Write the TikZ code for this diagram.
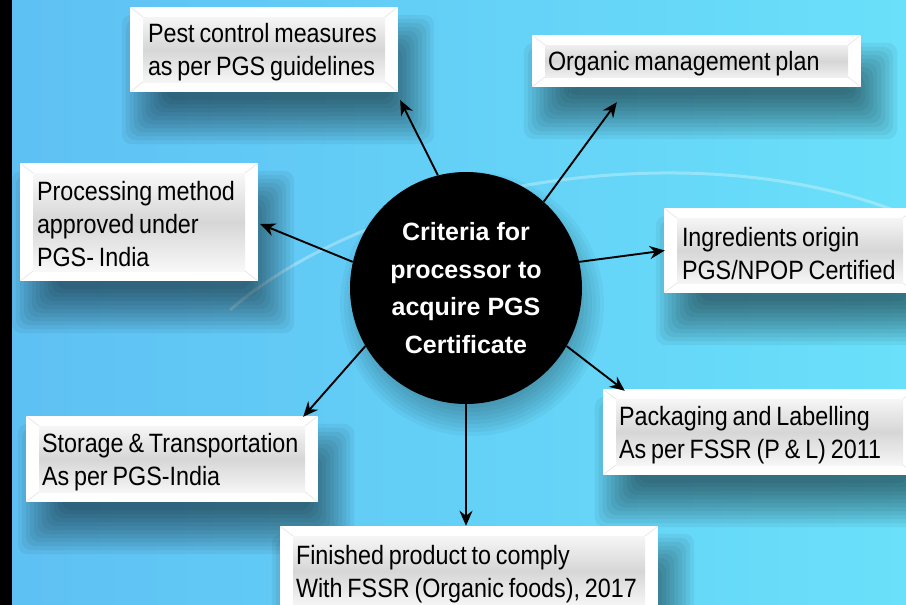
\documentclass[tikz,border=0pt]{standalone}
\usepackage{fontspec}
\setmainfont{Liberation Sans}
\newfontfamily\boxfont{Liberation Sans}[FakeStretch=0.88, WordSpace=0.75]
\usetikzlibrary{arrows.meta}

\definecolor{bgL}{RGB}{94,192,243}
\definecolor{bgM}{RGB}{114,232,251}
\definecolor{bgR}{RGB}{106,224,250}

\pgfdeclarelayer{back}
\pgfdeclarelayer{shad}
\pgfsetlayers{back,shad,main}

\newcommand\myboxshadow[1]{%
  \begin{pgfonlayer}{shad}
    \foreach \d in {-22,-18,...,22}{
      \fill[black, opacity=0.05, rounded corners=10pt]
        ([shift={(14+\d,30+\d)}]#1.north west) rectangle
        ([shift={(14-\d,30-\d)}]#1.south east);
    }
  \end{pgfonlayer}}

\begin{document}
\begin{tikzpicture}[x=1pt,y=-1pt,
  bx/.style={fill=white, inner sep=0pt,
    path picture={
      \shade[top color=white, bottom color=white, middle color=gray!32]
        ([shift={(13,10)}]path picture bounding box.north west) rectangle
        ([shift={(-13,-10)}]path picture bounding box.south east);
      \draw[gray!22, line width=0.6pt]
        (path picture bounding box.north west) -- ++(13,10)
        (path picture bounding box.south west) -- ++(13,-10)
        (path picture bounding box.north east) -- ++(-13,10)
        (path picture bounding box.south east) -- ++(-13,-10);
    }},
  txt/.style={align=left, inner sep=0pt, anchor=west,
    font=\boxfont\fontsize{26.5}{33}\selectfont},
  arr/.style={-{Stealth[length=15pt,width=13pt]}, line width=1.9pt, black}]

\useasboundingbox (0,0) rectangle (906,605);
\clip (0,0) rectangle (906,605);

% background
\begin{pgfonlayer}{back}
\shade[left color=bgL, middle color=bgM, right color=bgR] (0,0) rectangle (906,605);
\draw[white, opacity=0.3, line width=3pt] (230,310) .. controls (380,180) and (700,130) .. (906,215);
\fill[black] (0,0) rectangle (12,605);
\end{pgfonlayer}

% centre
\node[circle, fill=black, minimum size=232pt, inner sep=0pt, text=white, align=center,
  font=\bfseries\fontsize{25}{37.5}\selectfont]
  (c) at (466,288) {Criteria for\\processor to\\acquire PGS\\Certificate};
\begin{pgfonlayer}{shad}
  \foreach \r in {100,104,...,132}{
    \fill[black, opacity=0.035] ([shift={(6,16)}]c.center) circle[radius=\r pt];
  }
\end{pgfonlayer}

% boxes
\node[bx, minimum width=268pt, minimum height=85pt] (pest) at (264,49.5) {};
\node[bx, minimum width=329pt, minimum height=52pt] (org) at (696.5,61) {};
\node[bx, minimum width=238pt, minimum height=118pt] (proc) at (139,222) {};
\node[bx, minimum width=252pt, minimum height=85pt] (ingr) at (790,250.5) {};
\node[bx, minimum width=313pt, minimum height=86pt] (pack) at (759.5,432) {};
\node[bx, minimum width=292pt, minimum height=86pt] (stor) at (172,459) {};
\node[bx, minimum width=378pt, minimum height=90pt] (fin) at (469,571) {};

\foreach \n in {pest,org,proc,ingr,pack,stor,fin}{\myboxshadow{\n}}

% texts
\node[txt] (tpest) at ([shift={(18,3)}]pest.west) {Pest control measures\\as per PGS guidelines};
\node[txt] (torg) at ([shift={(16,3)}]org.west) {Organic management plan};
\node[txt] (tproc) at ([shift={(17,2)}]proc.west) {Processing method\\approved under\\PGS- India};
\node[txt] (tingr) at ([shift={(18,3)}]ingr.west) {Ingredients origin\\PGS/NPOP Certified};
\node[txt] (tpack) at ([shift={(16,3)}]pack.west) {Packaging and Labelling\\As per FSSR (P \& L) 2011};
\node[txt] (tstor) at ([shift={(16,3)}]stor.west) {Storage \& Transportation\\As per PGS-India};
\node[txt] (tfin) at ([shift={(16,3)}]fin.west) {Finished product to comply\\With FSSR (Organic foods), 2017};

% connectors
\draw[arr] (c.104) -- ([shift={(2,8)}]pest.south east);
\draw[arr] (c.48) -- ([shift={(85,15)}]org.south west);
\draw[arr] (c.167) -- ([shift={(2,2)}]proc.east);
\draw[arr] (c.13) -- ([shift={(1,0)}]ingr.west);
\draw[arr] (c.-30) -- ([shift={(22,2)}]pack.north west);
\draw[arr] (c.210) -- ([shift={(-15,1)}]stor.north east);
\draw[arr] (c.south) -- (c.south |- fin.north);
\end{tikzpicture}
\end{document}
